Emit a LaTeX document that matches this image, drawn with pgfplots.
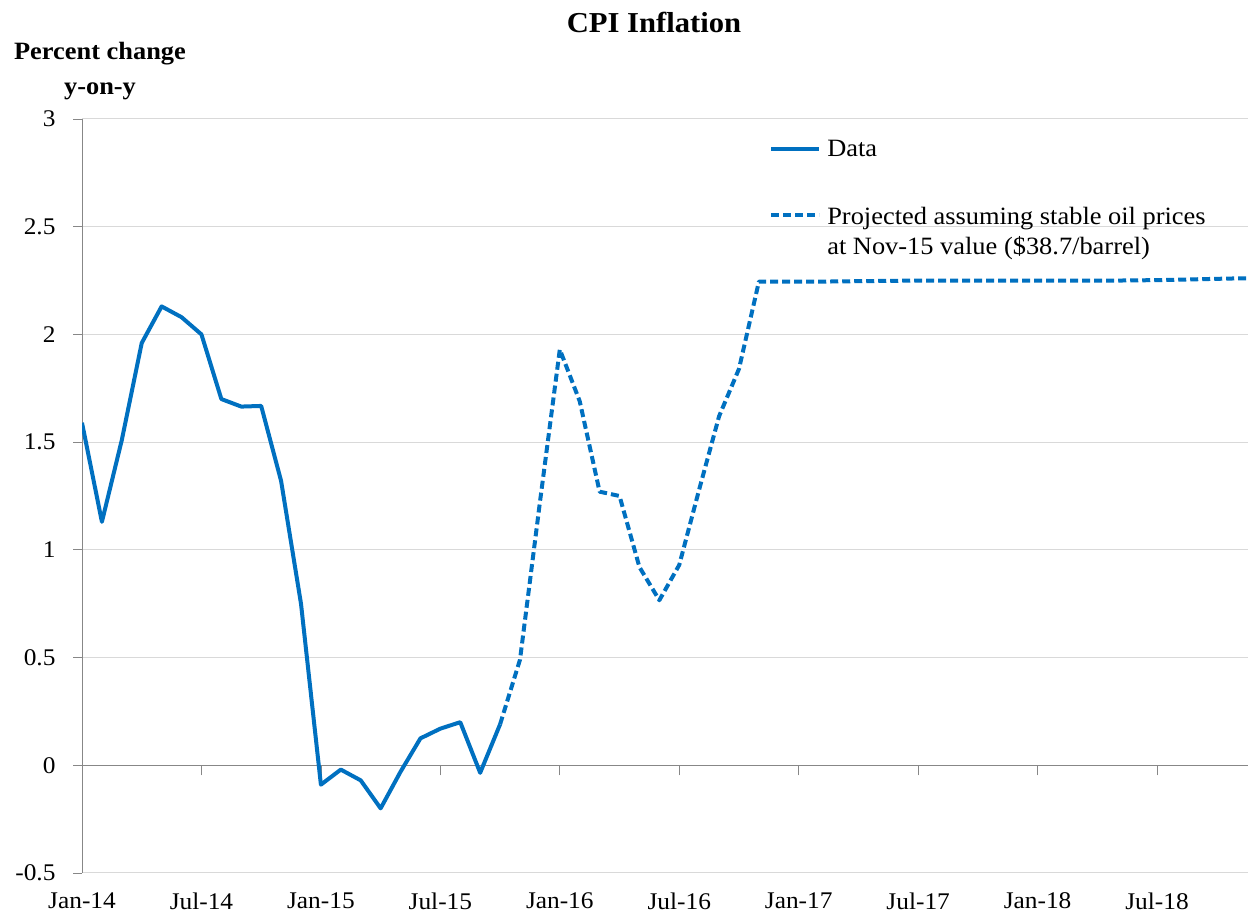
\documentclass[border=0pt]{standalone}
\usepackage{fontspec}
\setmainfont{Liberation Serif}[FakeStretch=1.06]
\usepackage{pgfplots}
\pgfplotsset{compat=1.18}
\definecolor{cpiblue}{RGB}{0,112,192}
\begin{document}
\begin{tikzpicture}[x=1bp,y=1bp]
\path[use as bounding box] (0,0) rectangle (1248,916);
\node[font=\bfseries\fontsize{29}{34}\selectfont] at (654,894) {CPI Inflation};
\node[font=\bfseries\fontsize{25}{35}\selectfont, align=center] at (100,845) {Percent change\\y-on-y};
\begin{axis}[at={(82bp,43bp)}, anchor=south west, scale only axis,
  width=1166bp, height=754bp, xmin=0, xmax=58.57, ymin=-0.5, ymax=3,
  axis lines*=left,
  x axis line style={draw=black!15, line width=1bp},
  y axis line style={draw=black!47, line width=1bp},
  ytick={-0.5,0,0.5,1,1.5,2,2.5,3},
  yticklabels={-0.5,0,0.5,1,1.5,2,2.5,3},
  ymajorgrids, grid style={draw=black!15, line width=1bp},
  xtick={0,6,12,18,24,30,36,42,48,54},
  xticklabels={Jan-14,Jul-14,Jan-15,Jul-15,Jan-16,Jul-16,Jan-17,Jul-17,Jan-18,Jul-18},
  x tick style={draw=none},
  y tick style={draw=black!47, line width=0.8bp},
  tick align=outside, major tick length=9bp,
  ticklabel style={font=\fontsize{24}{24}\selectfont},
  yticklabel style={anchor=east, xshift=-14bp},
  xticklabel style={anchor=north, yshift=-7bp},
]
\end{axis}
\begin{axis}[at={(82bp,43bp)}, anchor=south west, scale only axis,
  width=1166bp, height=754bp, xmin=0, xmax=58.57, ymin=-0.5, ymax=3,
  axis x line=middle, axis y line=none,
  axis line style={-},
  x axis line style={draw=black!47, line width=1bp},
  xtick={0,6,12,18,24,30,36,42,48,54}, xticklabels={}, ytick=\empty,
  x tick style={draw=black!47, line width=0.8bp},
  tick align=outside, major tick length=10bp,
  legend style={draw=none, fill=none, at={(0.5867,0.975)}, anchor=north west,
    font=\fontsize{25}{30}\selectfont, row sep=46bp, column sep=6bp,
    nodes={inner sep=0pt}},
  legend cell align=left,
  legend image code/.code={\draw[#1] (0bp,0bp) -- (48bp,0bp);},
]
\addplot[cpiblue, line width=4bp, line join=round] coordinates {
(0,1.59) (1,1.13) (2,1.51) (3,1.96) (4,2.13) (5,2.08) (6,2.00) (7,1.70)
(8,1.665) (9,1.668) (10,1.32) (11,0.75) (12,-0.09) (13,-0.02) (14,-0.07)
(15,-0.20) (16,-0.03) (17,0.125) (18,0.17) (19,0.20) (20,-0.035) (21,0.19)
};
\addlegendentry{Data}
\addplot[cpiblue, line width=4bp, line join=round, dash pattern=on 8bp off 4bp] coordinates {
(21,0.19) (22,0.49) (23,1.22) (24,1.93) (25,1.69) (26,1.27) (27,1.25)
(28,0.92) (29,0.766) (30,0.93) (31,1.28) (32,1.62) (33,1.84) (34,2.245)
(35,2.245) (36,2.245) (37,2.245) (38,2.246) (39,2.247) (40,2.248) (41,2.249)
(42,2.25) (43,2.25) (44,2.25) (45,2.25) (46,2.25) (47,2.25) (48,2.25)
(49,2.25) (50,2.25) (51,2.25) (52,2.25) (53,2.251) (54,2.252) (55,2.254)
(56,2.256) (57,2.258) (58,2.26) (59,2.26)
};
\addlegendentry{\begin{tabular}[t]{@{}l@{}}Projected assuming stable oil prices\\at Nov-15 value (\$38.7/barrel)\end{tabular}}
\end{axis}
\end{tikzpicture}
\end{document}
